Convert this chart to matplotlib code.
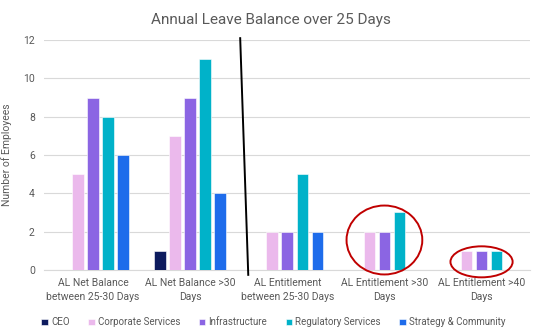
import matplotlib.pyplot as plt
import numpy as np
from matplotlib.patches import Ellipse

plt.rcParams['font.family'] = ['Roboto', 'DejaVu Sans']

categories = ["AL Net Balance\nbetween 25-30 Days", "AL Net Balance >30\nDays",
              "AL Entitlement\nbetween 25-30 Days", "AL Entitlement >30\nDays",
              "AL Entitlement >40\nDays"]
series_names = ["CEO", "Corporate Services", "Infrastructure",
                "Regulatory Services", "Strategy & Community"]
ceo = [0, 1, 0, 0, 0]
corporate = [5, 7, 2, 2, 1]
infrastructure = [9, 9, 2, 2, 1]
regulatory = [8, 11, 5, 3, 1]
strategy = [6, 4, 2, 0, 0]
colors = ["#0D1B5E", "#EBB9EC", "#8B65E3", "#00B2C9", "#1E6CEB"]

values = [ceo, corporate, infrastructure, regulatory, strategy]
grey = "#595959"

fig = plt.figure(figsize=(5.36, 3.34), dpi=100)
ax = fig.add_axes([0.083, 0.192, 0.906, 0.688])

x = np.arange(len(categories))
step = 0.155
for i, (name, vals, c) in enumerate(zip(series_names, values, colors)):
    ax.bar(x + (i - 2) * step, vals, width=0.12, color=c, label=name,
           edgecolor="white", linewidth=0.4, zorder=3)

ax.set_xlim(-0.5, 4.5)
ax.set_ylim(0, 12)
ax.set_yticks(range(0, 13, 2))
ax.set_xticks(x)
ax.set_xticklabels(categories, fontsize=7.5, color=grey, linespacing=1.5)
ax.tick_params(axis="y", labelsize=7.5, colors=grey, length=0, pad=7)
ax.tick_params(axis="x", length=0, pad=6)
ax.grid(axis="y", color="#D9D9D9", linewidth=0.8, zorder=0)
for s in ["top", "right", "left"]:
    ax.spines[s].set_visible(False)
ax.spines["bottom"].set_color("#D9D9D9")
ax.spines["bottom"].set_linewidth(0.8)

ax.set_ylabel("Number of Employees", fontsize=7.5, color=grey)
ax.yaxis.set_label_coords(-0.067, 0.5)
fig.text(0.505, 0.94, "Annual Leave Balance over 25 Days", ha="center",
         va="center", fontsize=11, color=grey)

# divider line and highlight circles
ax.plot([1.515, 1.598], [12.1, -0.26], color="black", lw=1.4, clip_on=False, zorder=5)
ax.add_patch(Ellipse((3.0, 1.56), 0.78, 3.6, fill=False, edgecolor="#C00000",
                     lw=1.4, clip_on=False, zorder=6))
ax.add_patch(Ellipse((4.0, 0.42), 0.64, 1.62, fill=False, edgecolor="#C00000",
                     lw=1.4, clip_on=False, zorder=6))

leg = fig.legend(loc="center", bbox_to_anchor=(0.51, 0.035), ncol=5, frameon=False,
                 fontsize=7, handlelength=0.7, handleheight=0.7, handletextpad=0.3,
                 columnspacing=1.9)
for t in leg.get_texts():
    t.set_color(grey)

fig.savefig("out.png", dpi=100)
